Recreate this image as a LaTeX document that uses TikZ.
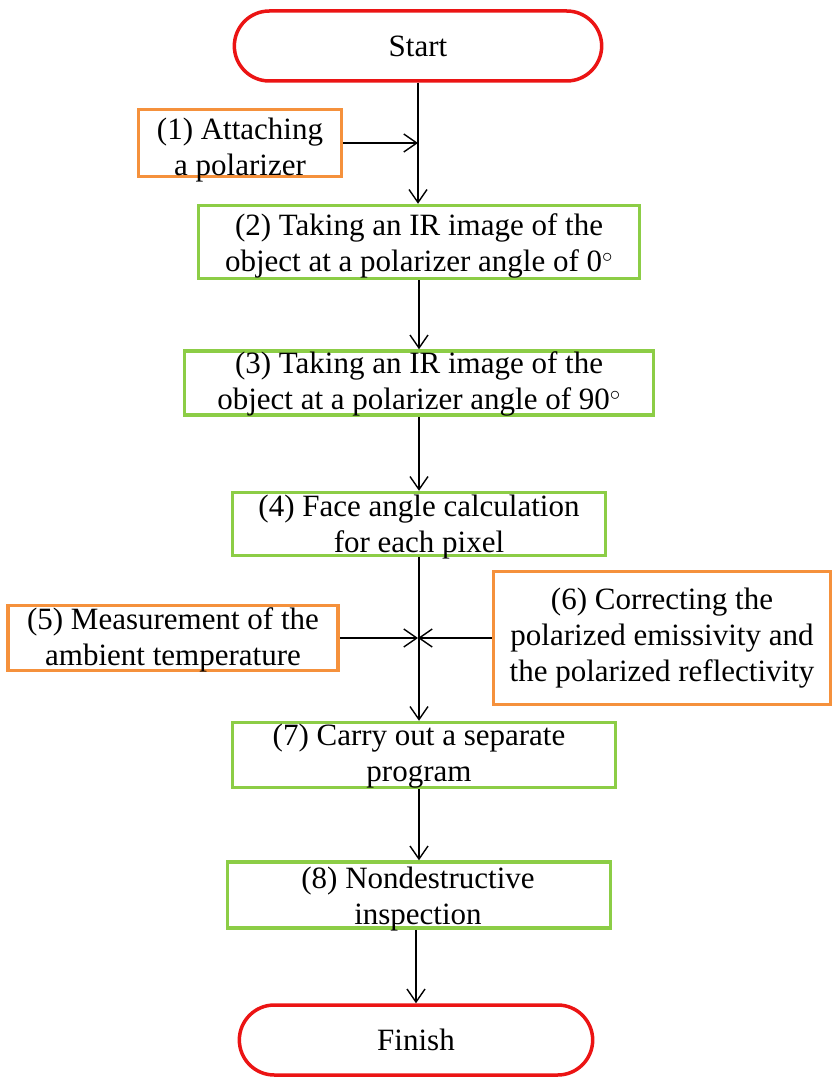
\documentclass[tikz,border=0pt]{standalone}
\usepackage{fontspec}
\setmainfont{Liberation Serif}
\usetikzlibrary{arrows.meta,shapes.misc}
\definecolor{termred}{RGB}{235,20,20}
\definecolor{boxgreen}{RGB}{140,205,70}
\definecolor{boxorange}{RGB}{245,145,60}
\tikzset{
	termbox/.style={draw=termred, line width=3.5pt, rounded rectangle, minimum width=374pt, minimum height=70pt, font=\fontsize{31}{36}\selectfont},
	greenbox/.style={draw=boxgreen, line width=3.5pt, inner sep=0pt},
	orangebox/.style={draw=boxorange, line width=3.5pt, inner sep=0pt},
	boxtext/.style={align=center, inner sep=0pt, font=\fontsize{31}{36}\selectfont},
	flow/.style={-{Straight Barb[length=13pt,width=18pt]}, line width=1.4pt}
}
\begin{document}
\begin{tikzpicture}[x=1pt, y=-1pt]
			%%%%% START %%%%%
			\useasboundingbox (0, 0) rectangle (834, 1078);
			
			\node[termbox] (start) at (418, 46) {Start};
			
			\node[orangebox, minimum width=203pt, minimum height=67pt] (att) at (240, 143) {};
			\node[boxtext] at (240, 150) {(1) Attaching\\a polarizer};
			
			\node[greenbox, minimum width=441pt, minimum height=73pt] (img0) at (419, 242) {};
			\node[boxtext] at (419, 246) {(2) Taking an IR image of the\\object at a polarizer angle of 0$^{\circ}$};
			
			\node[greenbox, minimum width=469pt, minimum height=64pt] (img90) at (419, 383) {};
			\node[boxtext] at (419, 384) {(3) Taking an IR image of the\\object at a polarizer angle of 90$^{\circ}$};
			
			\node[greenbox, minimum width=373pt, minimum height=63pt] (face) at (419, 524) {};
			\node[boxtext] at (419, 527) {(4) Face angle calculation\\for each pixel};
			
			\node[orangebox, minimum width=330pt, minimum height=65pt] (ambient) at (173, 638) {};
			\node[boxtext] at (173, 640) {(5) Measurement of the\\ambient temperature};
			
			\node[orangebox, minimum width=337pt, minimum height=133pt] (correct) at (662, 638) {};
			\node[boxtext] at (662, 638) {(6) Correcting the\\polarized emissivity and\\the polarized reflectivity};
			
			\node[greenbox, minimum width=383pt, minimum height=65pt] (prog) at (424, 755) {};
			\node[boxtext] at (419, 756) {(7) Carry out a separate\\program};
			
			\node[greenbox, minimum width=383pt, minimum height=66pt] (ndi) at (419, 895) {};
			\node[boxtext] at (418, 899) {(8) Nondestructive\\inspection};
			
			\node[termbox, minimum width=360pt] (finish) at (416, 1040) {Finish};
			
			\coordinate (joinA) at (418, 143);
			\coordinate (joinB) at (418, 638);
			
			\draw[flow] (start.south) -- (start.south |- img0.north);
			\draw[flow] (att.east) -- (joinA);
			\draw[flow] (img0.south) -- (img90.north);
			\draw[flow] (img90.south) -- (face.north);
			\draw[flow] (face.south) -- (face.south |- prog.north);
			\draw[flow] (ambient.east) -- (joinB);
			\draw[flow] (correct.west) -- (joinB);
			\draw[flow] (face.south |- prog.south) -- (face.south |- ndi.north);
			\draw[flow] (ndi.south -| finish.north) -- (finish.north);
			
			%%%%% END %%%%%
		\end{tikzpicture}
\end{document}
